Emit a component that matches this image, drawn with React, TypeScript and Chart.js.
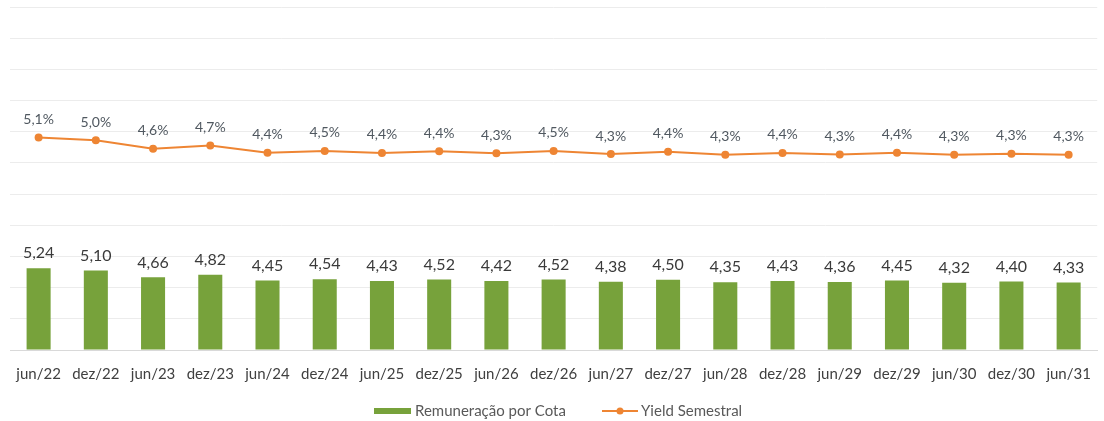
import React, { useEffect, useRef } from "react";
import { Chart, registerables } from "chart.js";

Chart.register(...registerables);

const categories = [
  "jun/22", "dez/22", "jun/23", "dez/23", "jun/24", "dez/24", "jun/25", "dez/25",
  "jun/26", "dez/26", "jun/27", "dez/27", "jun/28", "dez/28", "jun/29", "dez/29",
  "jun/30", "dez/30", "jun/31",
];

const remuneracaoPorCota = [
  5.24, 5.1, 4.66, 4.82, 4.45, 4.54, 4.43, 4.52, 4.42, 4.52, 4.38, 4.5, 4.35, 4.43,
  4.36, 4.45, 4.32, 4.4, 4.33,
];

const yieldSemestral = [
  5.14, 5.0, 4.57, 4.73, 4.37, 4.46, 4.36, 4.44, 4.34, 4.46, 4.3, 4.42, 4.27, 4.36,
  4.28, 4.37, 4.26, 4.32, 4.26,
];

const legendLabels = ["Remuneração por Cota", "Yield Semestral"];

const GREEN = "#77a23b";
const ORANGE = "#ee8533";
const FONT = "Lato, 'Open Sans', sans-serif";

const labelsPlugin = {
  id: "customLabels",
  afterDatasetsDraw(chart: any) {
    const ctx = chart.ctx;
    ctx.save();
    ctx.textAlign = "center";
    ctx.textBaseline = "middle";
    const barMeta = chart.getDatasetMeta(0);
    ctx.fillStyle = "#3a3a3a";
    ctx.font = `16px ${FONT}`;
    barMeta.data.forEach((el: any, i: number) => {
      const v = remuneracaoPorCota[i].toFixed(2).replace(".", ",");
      ctx.fillText(v, el.x, el.y - 15);
    });
    const lineMeta = chart.getDatasetMeta(1);
    ctx.fillStyle = "#505860";
    ctx.font = `14px ${FONT}`;
    lineMeta.data.forEach((el: any, i: number) => {
      const v = yieldSemestral[i].toFixed(1).replace(".", ",") + "%";
      ctx.fillText(v, el.x, el.y - 18);
    });
    ctx.restore();
  },
  afterDraw(chart: any) {
    const ctx = chart.ctx;
    ctx.save();
    const y = 411;
    ctx.fillStyle = GREEN;
    ctx.fillRect(374, y - 3, 37, 6);
    ctx.fillStyle = "#595959";
    ctx.font = `15px ${FONT}`;
    ctx.textBaseline = "middle";
    ctx.textAlign = "left";
    ctx.fillText(legendLabels[0], 415, y);
    ctx.strokeStyle = ORANGE;
    ctx.lineWidth = 2;
    ctx.beginPath();
    ctx.moveTo(602, y);
    ctx.lineTo(638, y);
    ctx.stroke();
    ctx.fillStyle = ORANGE;
    ctx.beginPath();
    ctx.arc(620, y, 3.5, 0, Math.PI * 2);
    ctx.fill();
    ctx.fillStyle = "#595959";
    ctx.fillText(legendLabels[1], 641, y);
    ctx.restore();
  },
};

export default function App() {
  const ref = useRef<HTMLCanvasElement | null>(null);

  useEffect(() => {
    if (!ref.current) return;
    const chart = new Chart(ref.current, {
      type: "bar",
      data: {
        labels: categories,
        datasets: [
          {
            type: "bar",
            label: legendLabels[0],
            data: remuneracaoPorCota,
            backgroundColor: GREEN,
            yAxisID: "y",
            barPercentage: 0.42,
            categoryPercentage: 1,
            order: 2,
          },
          {
            type: "line",
            label: legendLabels[1],
            data: yieldSemestral,
            borderColor: ORANGE,
            backgroundColor: ORANGE,
            borderWidth: 2,
            pointRadius: 4,
            pointBackgroundColor: ORANGE,
            pointBorderWidth: 0,
            yAxisID: "y2",
            order: 1,
          },
        ],
      },
      options: {
        animation: false,
        responsive: false,
        maintainAspectRatio: false,
        layout: { padding: { top: 7, left: 10, right: 1, bottom: 23 } },
        plugins: {
          legend: { display: false },
          tooltip: { enabled: false },
        },
        scales: {
          x: {
            grid: { display: false, drawTicks: false },
            border: { display: true, color: "#d9d9d9", width: 1 },
            ticks: {
              color: "#404040",
              font: { family: FONT, size: 15 },
              padding: 15,
              maxRotation: 0,
              autoSkip: false,
            },
          },
          y: {
            min: 0,
            max: 22,
            ticks: { display: false, stepSize: 2 },
            grid: { color: "#ececec", drawTicks: false },
            border: { display: false },
          },
          y2: {
            display: false,
            min: -5.65,
            max: 11.77,
          },
        },
      },
      plugins: [labelsPlugin],
    });
    return () => chart.destroy();
  }, []);

  return (
    <div
      style={{
        position: "absolute",
        left: 0,
        top: 0,
        width: 1104,
        height: 421,
        overflow: "hidden",
        background: "#fff",
      }}
    >
      <canvas ref={ref} width={1106} height={421} style={{ display: "block" }} />
    </div>
  );
}
